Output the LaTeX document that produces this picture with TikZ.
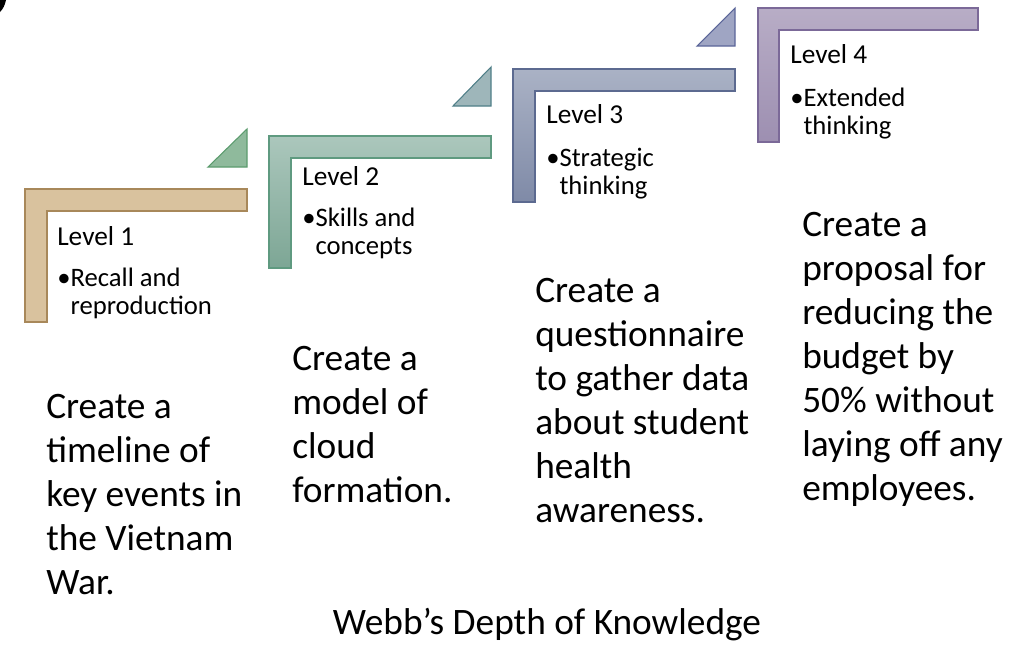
\documentclass[tikz,border=0pt]{standalone}
\usepackage{fontspec}
\setmainfont{Carlito}
\usepackage{tikz}
\usetikzlibrary{positioning}
\definecolor{tanfill}{HTML}{D9C29E}
\definecolor{tanedge}{HTML}{A8885A}
\definecolor{sagetop}{HTML}{ABC7BC}
\definecolor{sagebot}{HTML}{7DA695}
\definecolor{sageedge}{HTML}{5F9A80}
\definecolor{slatetop}{HTML}{AAB2C5}
\definecolor{slatebot}{HTML}{7F8AA7}
\definecolor{slateedge}{HTML}{5C6A90}
\definecolor{mauvetop}{HTML}{B8ADC6}
\definecolor{mauvebot}{HTML}{9D8FB1}
\definecolor{mauveedge}{HTML}{7B6998}
\definecolor{tria}{HTML}{8FBA9C}
\definecolor{triaedge}{HTML}{5C9C6E}
\definecolor{trib}{HTML}{9EB6BA}
\definecolor{tribedge}{HTML}{507F88}
\definecolor{tric}{HTML}{9FA5C3}
\definecolor{tricedge}{HTML}{5B6699}

\begin{document}
\begin{tikzpicture}[
    x=0.75pt, y=-0.75pt,
    bar1/.style   = {fill=tanfill, draw=tanedge, line width=0.8pt},
    bar2/.style   = {top color=sagetop, bottom color=sagebot, draw=sageedge, line width=0.8pt},
    bar3/.style   = {top color=slatetop, bottom color=slatebot, draw=slateedge, line width=0.8pt},
    bar4/.style   = {top color=mauvetop, bottom color=mauvebot, draw=mauveedge, line width=0.8pt},
    lvl/.style    = {anchor=base west, inner sep=0pt, font=\fontsize{20.5}{21}\selectfont},
    pt/.style     = {anchor=base west, inner sep=0pt, align=flush left, text width=130pt,
                     font=\fontsize{20}{21.5}\selectfont},
    task/.style   = {anchor=base west, inner sep=0pt, align=flush left, text width=170pt,
                     font=\fontsize{28}{33}\selectfont},
    caption/.style= {anchor=base, inner sep=0pt, font=\fontsize{28}{33}\selectfont}
  ]
  \useasboundingbox (0,0) rectangle (1012,644);

  % ── corner fragment ────────────────────────────────────────────────────────
  \fill[black] (0,0) -- (6,0) .. controls (5,5) and (3,9) .. (0,12) -- cycle;

  % ── steps ──────────────────────────────────────────────────────────────────
  \draw[bar1] (25,189) -- (247,189) -- (247,211) -- (47,211) -- (47,322) -- (25,322) -- cycle;
  \draw[bar2] (269,136) -- (491,136) -- (491,158) -- (291,158) -- (291,268) -- (269,268) -- cycle;
  \draw[bar3] (513,69) -- (735,69) -- (735,91) -- (535,91) -- (535,202) -- (513,202) -- cycle;
  \draw[bar4] (758,8) -- (978,8) -- (978,30) -- (779,30) -- (779,142) -- (758,142) -- cycle;

  % ── arrows between steps ───────────────────────────────────────────────────
  \draw[fill=tria, draw=triaedge, line width=0.8pt] (208,167) -- (247,167) -- (247,129) -- cycle;
  \draw[fill=trib, draw=tribedge, line width=0.8pt] (453,106) -- (491,106) -- (491,67) -- cycle;
  \draw[fill=tric, draw=tricedge, line width=0.8pt] (697,46) -- (735,46) -- (735,8) -- cycle;

  % ── level labels ───────────────────────────────────────────────────────────
  \node[lvl] (lvl1) at (57,245) {Level 1};
  \node[pt]  (pt1)  at (57,286) {\textbullet Recall and\\\phantom{\textbullet}reproduction};
  \node[lvl] (lvl2) at (302,185) {Level 2};
  \node[pt]  (pt2)  at (302,226) {\textbullet Skills and\\\phantom{\textbullet}concepts};
  \node[lvl] (lvl3) at (546,123) {Level 3};
  \node[pt]  (pt3)  at (546,166) {\textbullet Strategic\\\phantom{\textbullet}thinking};
  \node[lvl] (lvl4) at (790,63) {Level 4};
  \node[pt]  (pt4)  at (790,106) {\textbullet Extended\\\phantom{\textbullet}thinking};

  % ── example tasks ──────────────────────────────────────────────────────────
  \node[task] (task1) at (46,418)
    {Create a\\timeline of\\key events in\\the Vietnam\\War.};
  \node[task] (task2) at (292,370)
    {Create a\\model of\\cloud\\formation.};
  \node[task] (task3) at (535,302)
    {Create a\\questionnaire\\to gather data\\about student\\health\\awareness.};
  \node[task] (task4) at (802,236)
    {Create a\\proposal for\\reducing the\\budget by\\50\% without\\laying off any\\employees.};

  % ── caption ────────────────────────────────────────────────────────────────
  \node[caption] (title) at (547,634) {Webb’s Depth of Knowledge};

\end{tikzpicture}
\end{document}
